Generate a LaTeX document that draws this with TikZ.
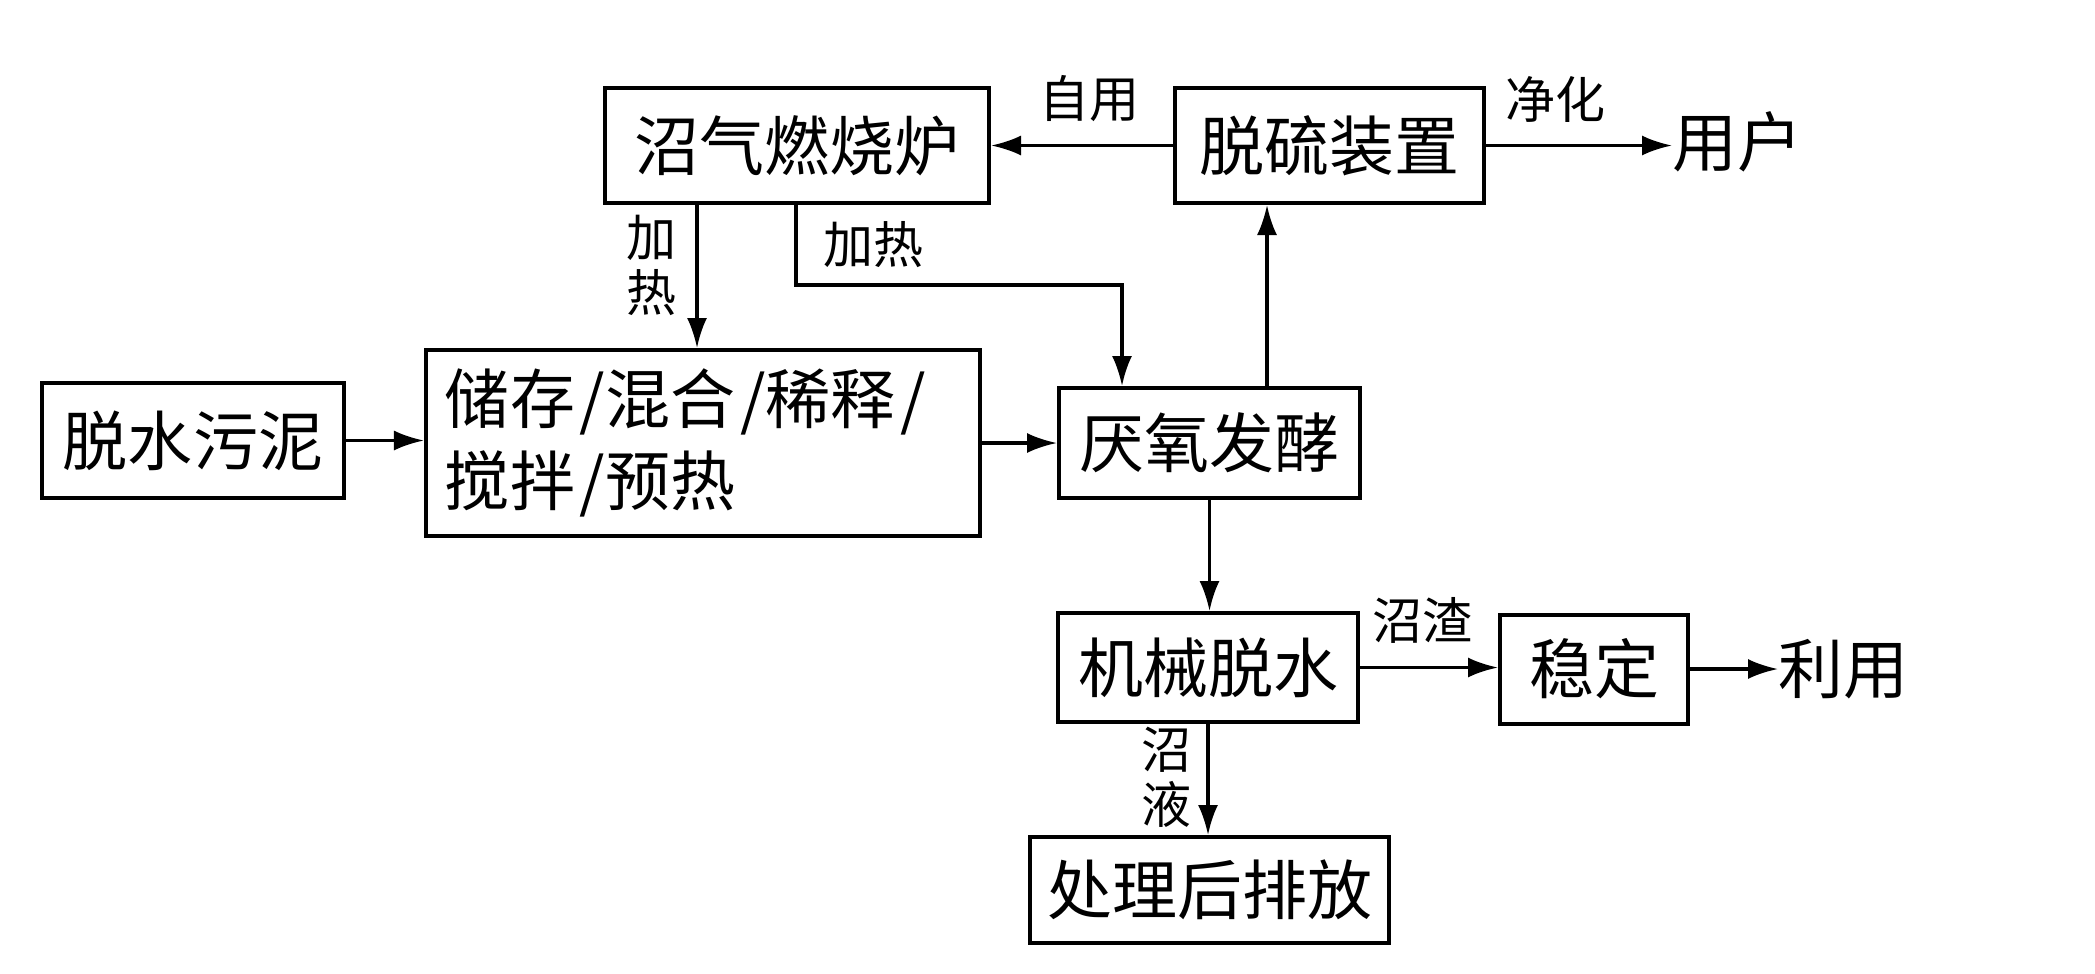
\documentclass[tikz,border=0pt]{standalone}
\usepackage{fontspec}
\setmainfont{Noto Sans CJK SC}
\usetikzlibrary{arrows.meta}
\tikzset{
  x=0.4pt, y=-0.4pt,
  box/.style={draw, line width=1.6pt, rectangle, inner sep=2pt, align=center,
    font=\fontsize{26pt}{30pt}\selectfont},
  lbl/.style={inner sep=0pt, align=center, font=\fontsize{20pt}{22pt}\selectfont},
  endtxt/.style={inner sep=0pt, font=\fontsize{26pt}{30pt}\selectfont},
  flow/.style={line width=1.3pt, -{Latex[length=12pt,width=8pt]}},
  plain/.style={line width=1.3pt}
}
\begin{document}
\begin{tikzpicture}
\useasboundingbox (0,0) rectangle (2095,974);
% boxes
\node[box, minimum width=120.8pt, minimum height=46pt] (sludge) at (193,440.5) {脱水污泥};
\node[box, minimum width=153.6pt, minimum height=46pt] (burner) at (797,145.5) {沼气燃烧炉};
\node[box, minimum width=123.6pt, minimum height=46pt] (desulf) at (1329.5,145.5) {脱硫装置};
\node[box, minimum width=221.6pt, minimum height=74.4pt, inner xsep=7.6pt,
      text width=206.4pt, align=left, font=\fontsize{26pt}{32.8pt}\selectfont] (store) at (703,443)
      {储存\hspace{2pt}/混合\hspace{2pt}/稀释\hspace{2pt}/\\搅拌\hspace{2pt}/预热};
\node[box, minimum width=120.4pt, minimum height=44pt] (digest) at (1209.5,443) {厌氧发酵};
\node[box, minimum width=120pt, minimum height=43.6pt] (dewater) at (1208,667.5) {机械脱水};
\node[box, minimum width=75.2pt, minimum height=43.6pt] (stable) at (1594,669) {稳定};
\node[box, minimum width=143.6pt, minimum height=42.4pt] (discharge) at (1209.5,890) {处理后排放};
% end texts
\node[endtxt, anchor=west] (user) at (1672,142) {用户};
\node[endtxt, anchor=west] (use) at (1778,669) {利用};
% labels
\node[lbl] (lzy) at (1089,99) {自用};
\node[lbl] (ljh) at (1555,99) {净化};
\node[lbl] (ljr1) at (651,265) {加\\热};
\node[lbl] (ljr2) at (873,245) {加热};
\node[lbl] (lzz) at (1422,620) {沼渣};
\node[lbl] (lzy2) at (1166,777) {沼\\液};
% helper coordinates
\coordinate (cA) at (1267,0);
\coordinate (cB) at (697,0);
\coordinate (bend1) at (796,285);
\coordinate (bend2) at (1122,285);
% connectors
\draw[flow] (sludge.east) -- (sludge.east -| store.west);
\draw[flow] (store.east) -- (store.east -| digest.west);
\draw[flow] (desulf.west) -- (desulf.west -| burner.east);
\draw[flow] (desulf.east) -- (desulf.east -| user.west);
\draw[flow] (cA |- digest.north) -- (cA |- desulf.south);
\draw[flow] (cB |- burner.south) -- (cB |- store.north);
\draw[flow] (bend1 |- burner.south) -- (bend1) -- (bend2) -- (bend2 |- digest.north);
\draw[flow] (digest.south) -- (digest.south |- dewater.north);
\draw[flow] (dewater.south) -- (dewater.south |- discharge.north);
\draw[flow] (dewater.east) -- (dewater.east -| stable.west);
\draw[flow] (stable.east) -- (stable.east -| use.west);
\end{tikzpicture}
\end{document}
